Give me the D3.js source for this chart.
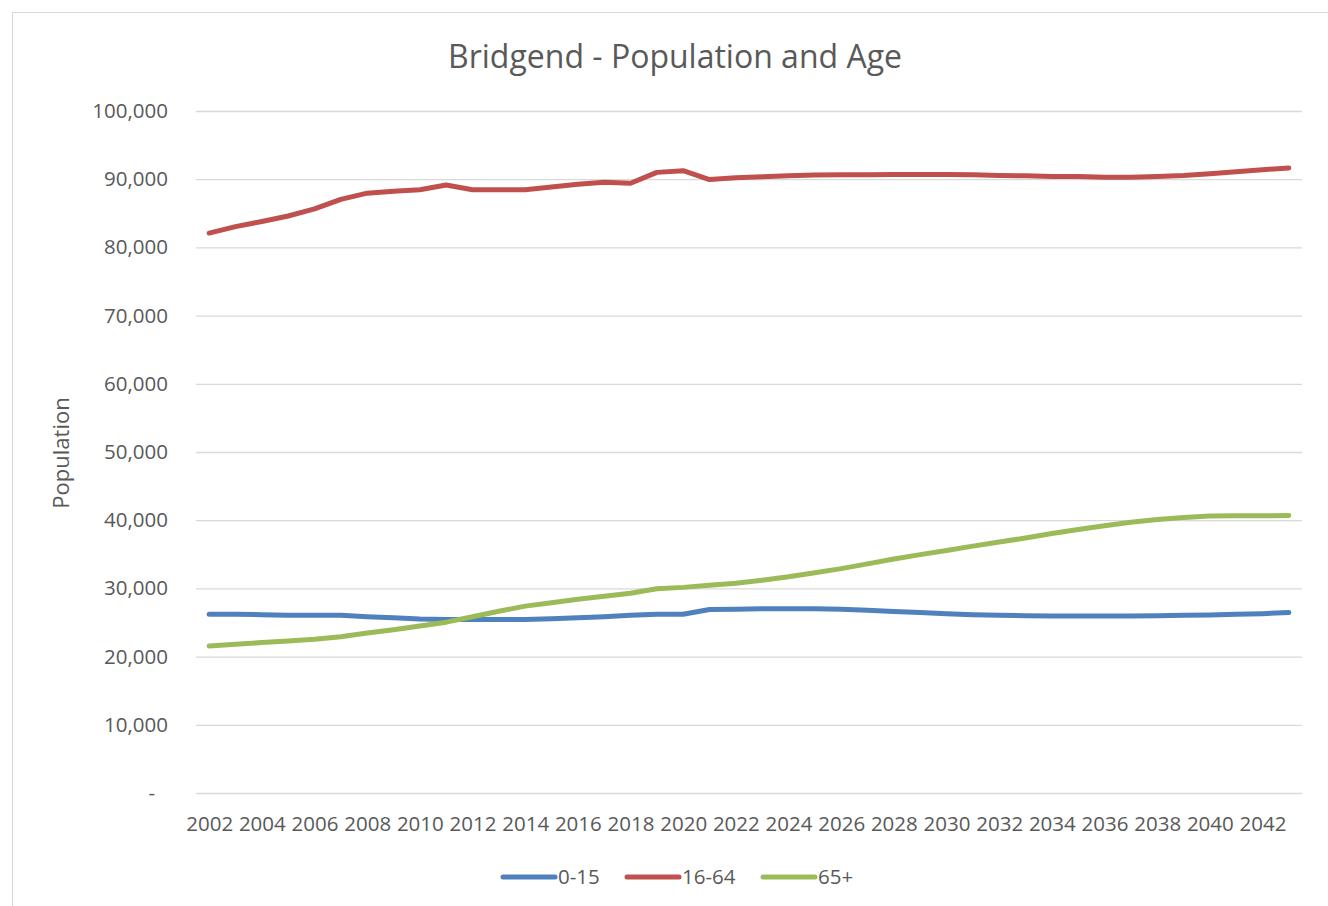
<!DOCTYPE html>
<html>
<head>
<meta charset="utf-8">
<script src="https://cdn.jsdelivr.net/npm/d3@7"></script>
<style>
  body { margin: 0; background: #fff; }
  svg { display: block; font-family: "Open Sans", sans-serif; }
</style>
</head>
<body>
<script>
const width = 1328
const height = 906
const margin = ({top: 111, right: 26, bottom: 113, left: 196})

// years on the category axis
const years = d3.range(2002, 2044)

const age0to15 = [
  26200, 26200, 26150, 26050, 26050, 26050, 25850, 25700, 25500, 25450,
  25450, 25450, 25450, 25550, 25700, 25850, 26050, 26200, 26200, 26900,
  26950, 27000, 27000, 27000, 26950, 26800, 26600, 26450, 26300, 26150,
  26050, 26000, 25950, 25950, 25950, 25950, 26000, 26050, 26100, 26200,
  26300, 26450
]

const age16to64 = [
  82100, 83050, 83800, 84600, 85650, 87050, 87950, 88250, 88450, 89150,
  88450, 88450, 88450, 88850, 89250, 89550, 89400, 91000, 91250, 89950,
  90200, 90350, 90500, 90600, 90650, 90650, 90700, 90700, 90700, 90650,
  90550, 90500, 90400, 90400, 90300, 90300, 90400, 90550, 90800, 91100,
  91400, 91650
]

const age65plus = [
  21550, 21800, 22050, 22300, 22550, 22900, 23450, 23950, 24500, 25050,
  25850, 26650, 27400, 27900, 28400, 28850, 29300, 29950, 30150, 30450,
  30750, 31200, 31700, 32300, 32900, 33600, 34300, 34950, 35550, 36200,
  36800, 37400, 38050, 38650, 39200, 39700, 40100, 40400, 40600, 40650,
  40650, 40700
]

const seriesNames = ["0-15", "16-64", "65+"]
const seriesColors = ["#4f81bd", "#c0504d", "#9bbb59"]
const yTicks = d3.range(0, 100001, 10000)
const xTickYears = years.filter(y => y % 2 === 0)

const series = [age0to15, age16to64, age65plus].map((vals, i) => ({
  name: seriesNames[i],
  color: seriesColors[i],
  values: vals.map((v, j) => ({year: years[j], value: v}))
}))

const x = d3.scalePoint()
  .domain(years)
  .range([margin.left, width - margin.right])
  .padding(0.5)

const y = d3.scaleLinear()
  .domain([0, 100000])
  .range([height - margin.bottom, margin.top])

const fmt = d3.format(",")

const svg = d3.select("body").append("svg")
  .attr("width", width)
  .attr("height", height)
  .attr("viewBox", [0, 0, width, height])

// chart border
svg.append("rect")
  .attr("x", 12.5).attr("y", 12.5)
  .attr("width", width).attr("height", height)
  .attr("fill", "none")
  .attr("stroke", "#d9d9d9")

svg.append("text")
  .attr("x", 675).attr("y", 68)
  .attr("text-anchor", "middle")
  .attr("fill", "#595959")
  .attr("font-size", 32)
  .text("Bridgend - Population and Age")

// y axis with gridlines
svg.append("g")
  .attr("transform", `translate(${margin.left},0)`)
  .call(d3.axisLeft(y)
    .tickValues(yTicks)
    .tickSize(0)
    .tickPadding(28)
    .tickFormat(d => d === 0 ? "-" : fmt(d)))
  .call(g => g.select(".domain").remove())
  .call(g => g.selectAll(".tick text")
    .attr("fill", "#595959")
    .attr("font-size", 20.5)
    .attr("font-family", "Open Sans, sans-serif"))
  .call(g => g.selectAll(".tick").filter(d => d === 0).select("text").attr("dx", -13))
  .call(g => g.selectAll(".tick line").clone()
    .attr("stroke", "#d9d9d9")
    .attr("stroke-width", 1.3)
    .attr("x2", width - margin.left - margin.right))

// x axis labels
svg.append("g")
  .attr("transform", `translate(0,${height - margin.bottom})`)
  .call(d3.axisBottom(x)
    .tickValues(xTickYears)
    .tickSize(0)
    .tickPadding(23))
  .call(g => g.select(".domain").remove())
  .call(g => g.selectAll(".tick text")
    .attr("fill", "#595959")
    .attr("font-size", 20.5)
    .attr("font-family", "Open Sans, sans-serif"))

svg.append("text")
  .attr("transform", "translate(69,453) rotate(-90)")
  .attr("text-anchor", "middle")
  .attr("fill", "#595959")
  .attr("font-size", 22)
  .text("Population")

const line = d3.line()
  .x(d => x(d.year))
  .y(d => y(d.value))

svg.append("g")
  .attr("fill", "none")
  .attr("stroke-width", 5)
  .attr("stroke-linecap", "round")
  .attr("stroke-linejoin", "round")
  .selectAll("path")
  .data(series)
  .join("path")
    .attr("stroke", d => d.color)
    .attr("d", d => line(d.values))

// legend
const legendX = [503, 627, 763]
const legend = svg.append("g")
  .selectAll("g")
  .data(series)
  .join("g")
    .attr("transform", (d, i) => `translate(${legendX[i]},877)`)

legend.append("line")
  .attr("x1", 0).attr("x2", 52)
  .attr("stroke", d => d.color)
  .attr("stroke-width", 5)
  .attr("stroke-linecap", "round")

legend.append("text")
  .attr("x", 55).attr("dy", "0.35em")
  .attr("fill", "#595959")
  .attr("font-size", 20.5)
  .text(d => d.name)
</script>
</body>
</html>
